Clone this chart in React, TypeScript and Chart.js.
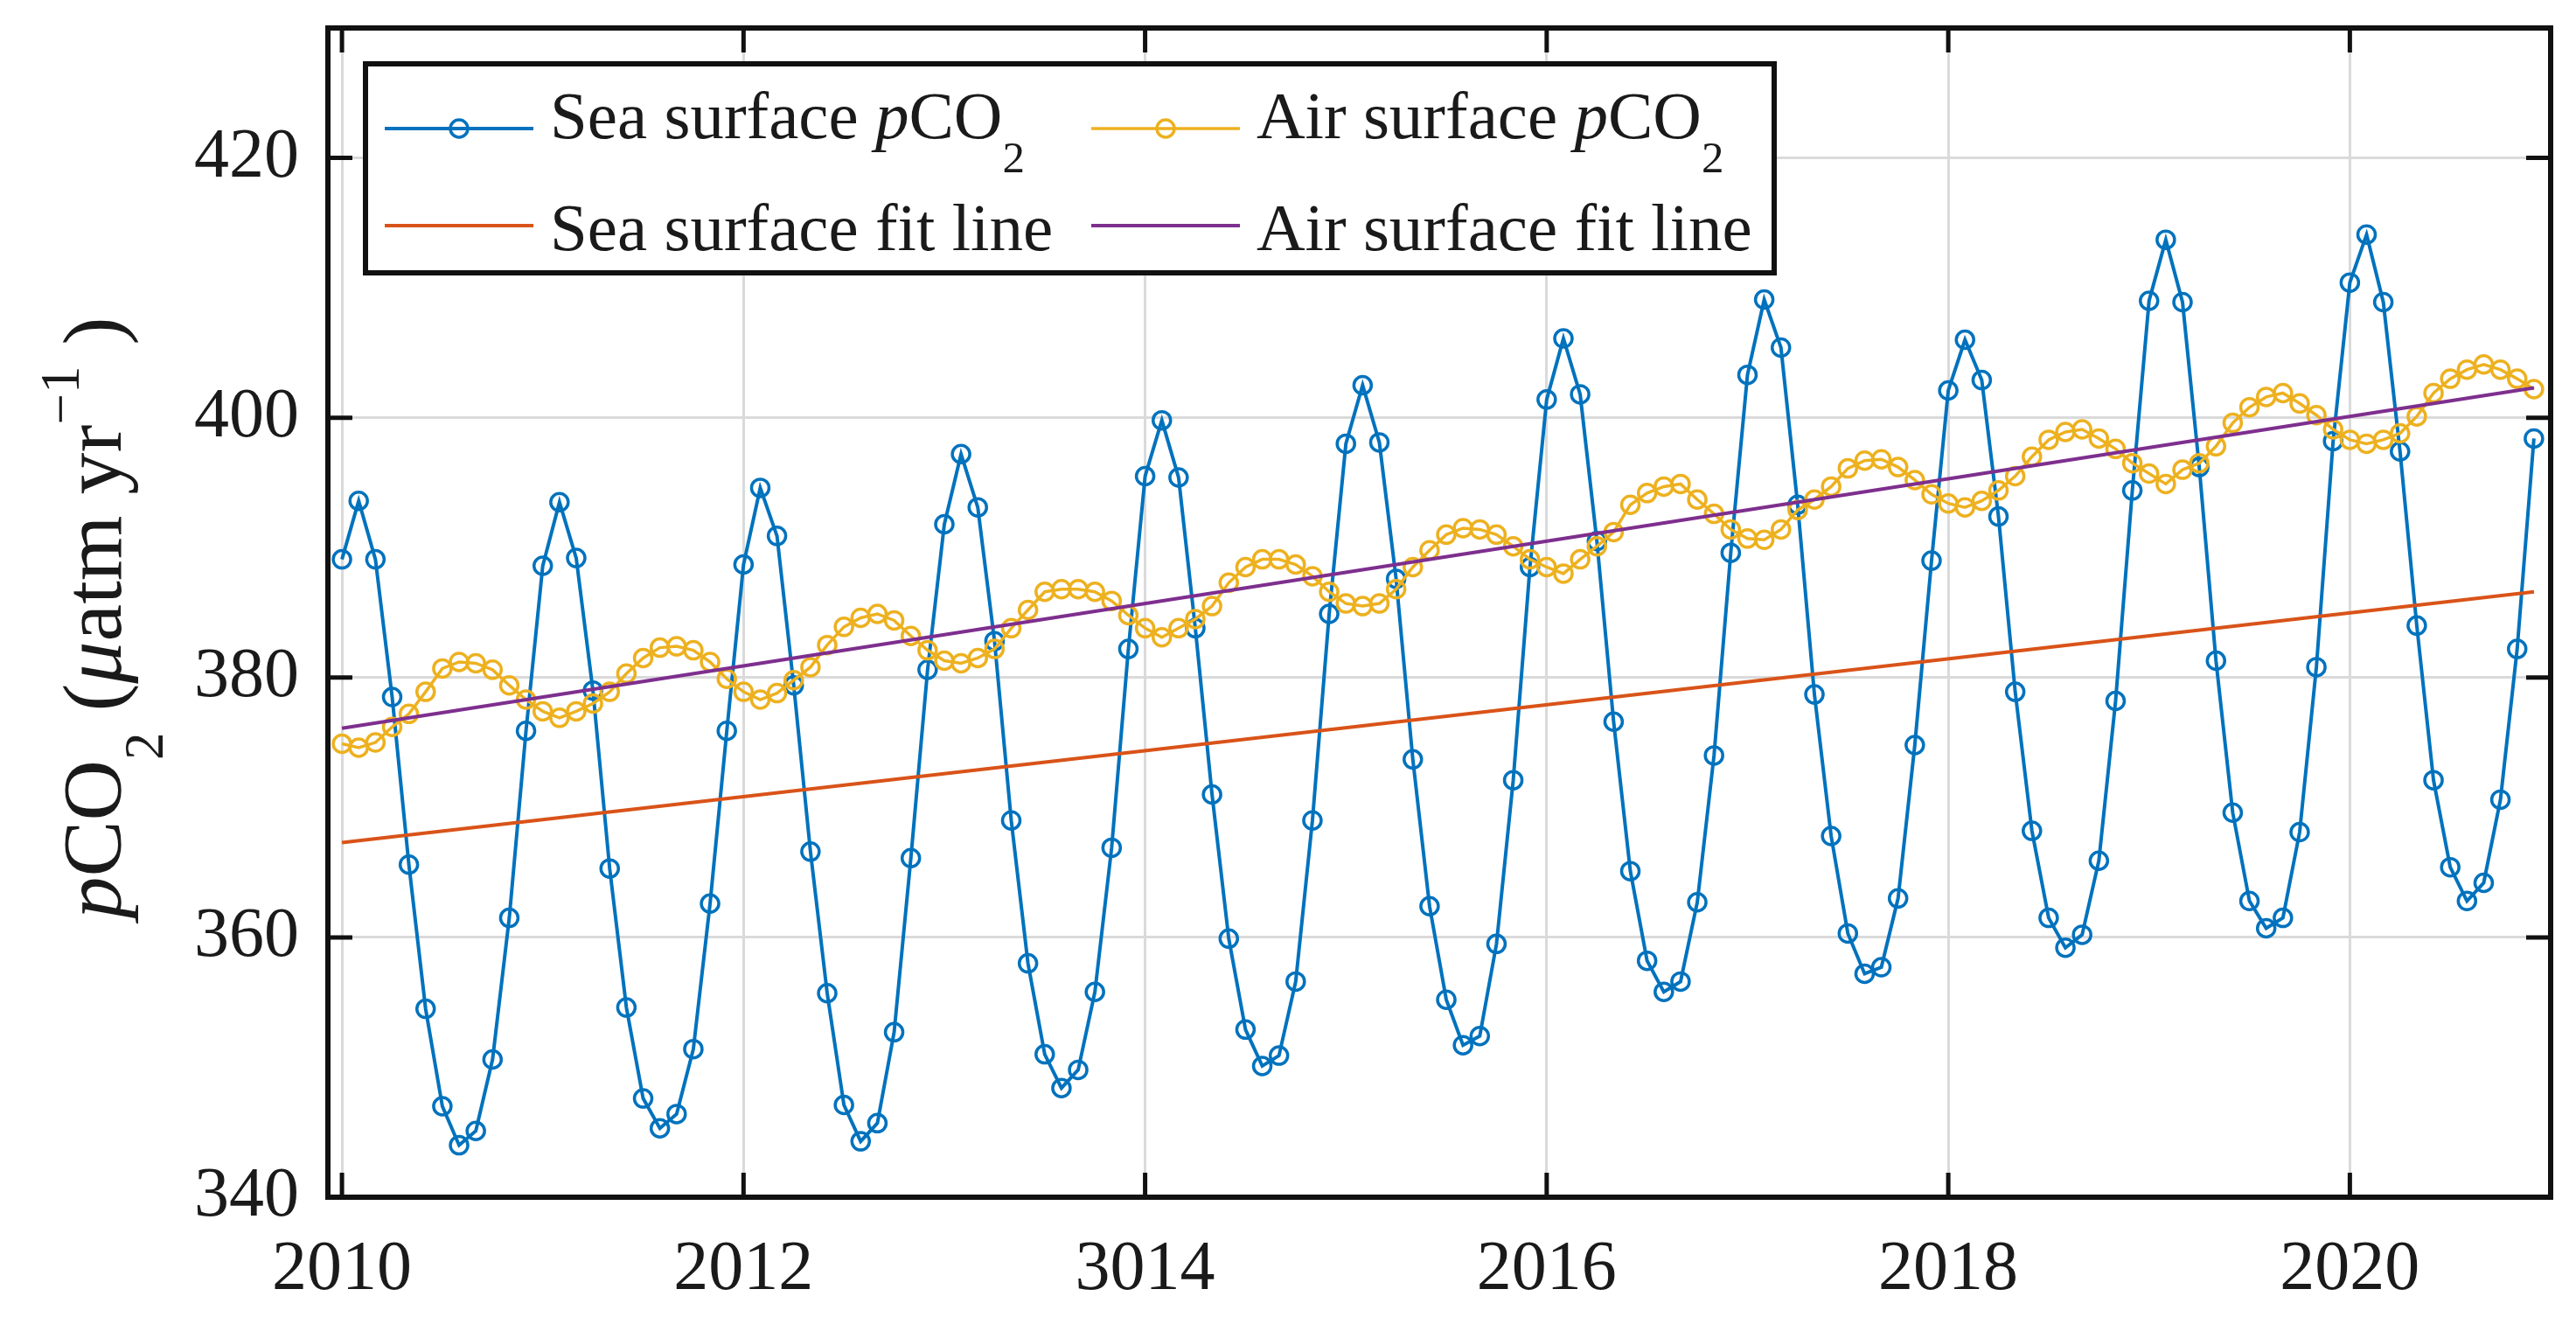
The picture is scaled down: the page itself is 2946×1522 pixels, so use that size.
import { useEffect, useRef } from "react";
import { Chart, registerables } from "chart.js";

Chart.register(...registerables);

const FONT = '"Liberation Serif", "Times New Roman", serif';
const TEXT = "#1a1a1a";

// monthly values, Jan 2010 .. Dec 2020
const startYear = 2010;

const seaPco2 = [
  389.1, 393.6, 389.1, 378.5, 365.6, 354.5, 347.0, 344.0, 345.1, 350.6, 361.5, 375.9,
  388.6, 393.5, 389.2, 379.0, 365.3, 354.6, 347.6, 345.3, 346.4, 351.4, 362.6, 375.9,
  388.7, 394.6, 390.9, 379.4, 366.6, 355.7, 347.1, 344.3, 345.7, 352.7, 366.1, 380.6,
  391.8, 397.2, 393.1, 382.8, 369.0, 358.0, 351.0, 348.4, 349.8, 355.8, 366.9, 382.2,
  395.5, 399.8, 395.4, 383.8, 371.0, 359.9, 352.9, 350.1, 350.9, 356.6, 369.0, 384.9,
  398.0, 402.5, 398.1, 387.6, 373.7, 362.4, 355.2, 351.7, 352.4, 359.5, 372.1, 388.5,
  401.4, 406.1, 401.8, 390.5, 376.6, 365.1, 358.2, 355.8, 356.6, 362.7, 374.0, 389.6,
  403.3, 409.1, 405.4, 393.3, 378.7, 367.8, 360.3, 357.2, 357.7, 363.0, 374.8, 389.0,
  402.1, 406.0, 402.9, 392.4, 378.9, 368.2, 361.5, 359.2, 360.2, 365.9, 378.2, 394.4,
  409.0, 413.7, 408.9, 396.2, 381.3, 369.6, 362.8, 360.7, 361.5, 368.1, 380.8, 398.2,
  410.4, 414.1, 408.9, 397.4, 384.0, 372.1, 365.4, 362.8, 364.2, 370.6, 382.2, 398.4,
];

const airPco2 = [
  374.9, 374.6, 375.0, 376.2, 377.2, 378.9, 380.7, 381.2, 381.1, 380.6, 379.4, 378.3,
  377.4, 376.9, 377.4, 378.0, 378.9, 380.3, 381.5, 382.3, 382.4, 382.1, 381.2, 379.9,
  378.9, 378.3, 378.8, 379.8, 380.8, 382.5, 383.9, 384.6, 384.9, 384.4, 383.2, 382.1,
  381.3, 381.1, 381.5, 382.2, 383.8, 385.2, 386.6, 386.8, 386.8, 386.6, 385.9, 384.8,
  383.8, 383.1, 383.8, 384.5, 385.5, 387.3, 388.5, 389.1, 389.1, 388.7, 387.8, 386.6,
  385.7, 385.5, 385.7, 386.8, 388.5, 389.8, 391.0, 391.5, 391.4, 391.0, 390.1, 389.1,
  388.5, 388.0, 389.1, 390.1, 391.2, 393.3, 394.2, 394.7, 394.9, 393.7, 392.6, 391.4,
  390.7, 390.6, 391.4, 392.9, 393.7, 394.7, 396.1, 396.7, 396.8, 396.2, 395.2, 394.1,
  393.4, 393.1, 393.6, 394.4, 395.5, 397.0, 398.3, 398.9, 399.1, 398.4, 397.6, 396.5,
  395.7, 394.9, 396.0, 396.5, 397.8, 399.6, 400.8, 401.6, 401.9, 401.1, 400.2, 399.1,
  398.3, 398.0, 398.3, 398.8, 400.1, 401.9, 403.0, 403.7, 404.1, 403.7, 403.0, 402.2,
];

// end points of the two linear fits
const fitYears = [2010, 2020.917];
const seaFit = [367.3, 386.6];
const airFit = [376.1, 402.3];

const xTicks = [2010, 2012, 2014, 2016, 2018, 2020];
const xTickLabels = ["2010", "2012", "3014", "2016", "2018", "2020"];
const yTicks = [340, 360, 380, 400, 420];

const COLORS = {
  sea: "#0072BD",
  air: "#EDB120",
  seaFit: "#D95319",
  airFit: "#7E2F8E",
};

type Seg = { t: string; it?: boolean; sub?: boolean; sup?: boolean };

const seaLabel: Seg[] = [{ t: "Sea surface " }, { t: "p", it: true }, { t: "CO" }, { t: "2", sub: true }];
const airLabel: Seg[] = [{ t: "Air surface " }, { t: "p", it: true }, { t: "CO" }, { t: "2", sub: true }];
const seaFitLabel: Seg[] = [{ t: "Sea surface fit line" }];
const airFitLabel: Seg[] = [{ t: "Air surface fit line" }];
const yTitle: Seg[] = [
  { t: "p", it: true },
  { t: "CO" },
  { t: "2", sub: true },
  { t: " (" },
  { t: "\u03bc", it: true },
  { t: "atm yr" },
  { t: "\u22121", sup: true },
  { t: " )" },
];

function drawRich(ctx: CanvasRenderingContext2D, segs: Seg[], x: number, y: number, size: number, center: boolean) {
  const fontFor = (s: Seg) =>
    `${s.it ? "italic " : ""}${s.sub || s.sup ? Math.round(size * 0.66) : size}px ${FONT}`;
  let w = 0;
  for (const s of segs) {
    ctx.font = fontFor(s);
    w += ctx.measureText(s.t).width;
  }
  let cx = center ? x - w / 2 : x;
  ctx.textAlign = "left";
  ctx.textBaseline = "alphabetic";
  for (const s of segs) {
    ctx.font = fontFor(s);
    const dy = s.sub ? size * 0.5 : s.sup ? -size * 0.5 : 0;
    ctx.fillText(s.t, cx, y + dy);
    cx += ctx.measureText(s.t).width;
  }
}

const toPoints = (vals: number[]) => vals.map((v, i) => ({ x: startYear + i / 12, y: v }));

const frame = {
  id: "frame",
  afterDatasetsDraw(chart: Chart) {
    const { ctx, chartArea: ca } = chart;
    const xs = chart.scales.x;
    const ys = chart.scales.y;
    const tl = 28;
    ctx.save();
    ctx.strokeStyle = "#111";
    ctx.lineWidth = 5;
    ctx.beginPath();
    for (const v of xTicks) {
      const px = xs.getPixelForValue(v);
      ctx.moveTo(px, ca.bottom);
      ctx.lineTo(px, ca.bottom - tl);
      ctx.moveTo(px, ca.top);
      ctx.lineTo(px, ca.top + tl);
    }
    for (const v of yTicks) {
      const py = ys.getPixelForValue(v);
      ctx.moveTo(ca.left, py);
      ctx.lineTo(ca.left + tl, py);
      ctx.moveTo(ca.right, py);
      ctx.lineTo(ca.right - tl, py);
    }
    ctx.stroke();
    ctx.lineWidth = 6;
    ctx.strokeRect(ca.left, ca.top, ca.right - ca.left, ca.bottom - ca.top);
    ctx.restore();
  },
  afterDraw(chart: Chart) {
    const { ctx, chartArea: ca } = chart;
    ctx.save();

    // legend box
    const bx = ca.left + 43;
    const by = ca.top + 41;
    const bw = 1611;
    const bh = 239;
    ctx.fillStyle = "#fff";
    ctx.fillRect(bx, by, bw, bh);
    ctx.strokeStyle = "#111";
    ctx.lineWidth = 6;
    ctx.strokeRect(bx, by, bw, bh);

    const entries = [
      { segs: seaLabel, color: COLORS.sea, marker: true, col: 0, row: 0, lw: 4 },
      { segs: airLabel, color: COLORS.air, marker: true, col: 1, row: 0, lw: 3.5 },
      { segs: seaFitLabel, color: COLORS.seaFit, marker: false, col: 0, row: 1, lw: 4 },
      { segs: airFitLabel, color: COLORS.airFit, marker: false, col: 1, row: 1, lw: 4 },
    ];
    const colX = [bx + 22, bx + 830];
    const lineY = [by + 74, by + 185];
    const baseY = [by + 85, by + 213];
    for (const e of entries) {
      const x0 = colX[e.col];
      const ly = lineY[e.row];
      ctx.strokeStyle = e.color;
      ctx.lineWidth = e.lw;
      ctx.beginPath();
      ctx.moveTo(x0, ly);
      ctx.lineTo(x0 + 170, ly);
      ctx.stroke();
      if (e.marker) {
        ctx.lineWidth = 3.5;
        ctx.beginPath();
        ctx.arc(x0 + 85, ly, 10, 0, Math.PI * 2);
        ctx.stroke();
      }
      ctx.fillStyle = TEXT;
      drawRich(ctx, e.segs, x0 + 189, baseY[e.row], 77, false);
    }

    // y axis title
    ctx.translate(138, (ca.top + ca.bottom) / 2 + 6);
    ctx.rotate(-Math.PI / 2);
    ctx.fillStyle = TEXT;
    drawRich(ctx, yTitle, 0, 0, 96, true);
    ctx.restore();
  },
};

export default function App() {
  const canvasRef = useRef<HTMLCanvasElement>(null);
  const chartRef = useRef<Chart | null>(null);

  useEffect(() => {
    if (!canvasRef.current) return;
    if (chartRef.current) chartRef.current.destroy();

    chartRef.current = new Chart(canvasRef.current, {
      type: "line",
      data: {
        datasets: [
          {
            data: toPoints(seaPco2),
            borderColor: COLORS.sea,
            borderWidth: 4,
            pointRadius: 10,
            pointBorderWidth: 3.5,
            pointBorderColor: COLORS.sea,
            pointBackgroundColor: "rgba(255,255,255,0)",
            tension: 0,
            order: 4,
          },
          {
            data: toPoints(airPco2),
            borderColor: COLORS.air,
            borderWidth: 3.5,
            pointRadius: 10,
            pointBorderWidth: 3.5,
            pointBorderColor: COLORS.air,
            pointBackgroundColor: "rgba(255,255,255,0)",
            tension: 0,
            order: 3,
          },
          {
            data: fitYears.map((x, i) => ({ x, y: seaFit[i] })),
            borderColor: COLORS.seaFit,
            borderWidth: 4,
            pointRadius: 0,
            order: 2,
          },
          {
            data: fitYears.map((x, i) => ({ x, y: airFit[i] })),
            borderColor: COLORS.airFit,
            borderWidth: 4,
            pointRadius: 0,
            order: 1,
          },
        ],
      },
      options: {
        responsive: true,
        maintainAspectRatio: false,
        animation: false,
        devicePixelRatio: 1,
        layout: { padding: { top: 32, right: 29, bottom: 0, left: 0 } },
        plugins: {
          legend: { display: false },
          tooltip: { enabled: false },
        },
        scales: {
          x: {
            type: "linear",
            min: 2009.93,
            max: 2021.0,
            afterBuildTicks: (s) => {
              s.ticks = xTicks.map((v) => ({ value: v }));
            },
            afterFit: (s) => {
              s.height = 153;
              s.paddingLeft = 0;
              s.paddingRight = 0;
            },
            ticks: {
              padding: 36,
              color: TEXT,
              font: { family: FONT, size: 80 },
              maxRotation: 0,
              autoSkip: false,
              callback: (v) => xTickLabels[xTicks.indexOf(Number(v))] ?? "",
            },
            grid: { color: "#dadada", lineWidth: 3, drawTicks: false },
            border: { display: false },
          },
          y: {
            type: "linear",
            min: 340,
            max: 430,
            afterBuildTicks: (s) => {
              s.ticks = yTicks.map((v) => ({ value: v }));
            },
            afterFit: (s) => {
              s.width = 375;
              s.paddingTop = 0;
              s.paddingBottom = 0;
            },
            ticks: {
              padding: 33,
              color: TEXT,
              font: { family: FONT, size: 80 },
            },
            grid: { color: "#dadada", lineWidth: 3, drawTicks: false },
            border: { display: false },
          },
        },
      },
      plugins: [frame],
    });

    return () => {
      if (chartRef.current) {
        chartRef.current.destroy();
        chartRef.current = null;
      }
    };
  }, []);

  return (
    <div style={{ position: "fixed", left: 0, top: 0, width: "2946px", height: "1522px", background: "#fff" }}>
      <canvas ref={canvasRef} />
    </div>
  );
}
